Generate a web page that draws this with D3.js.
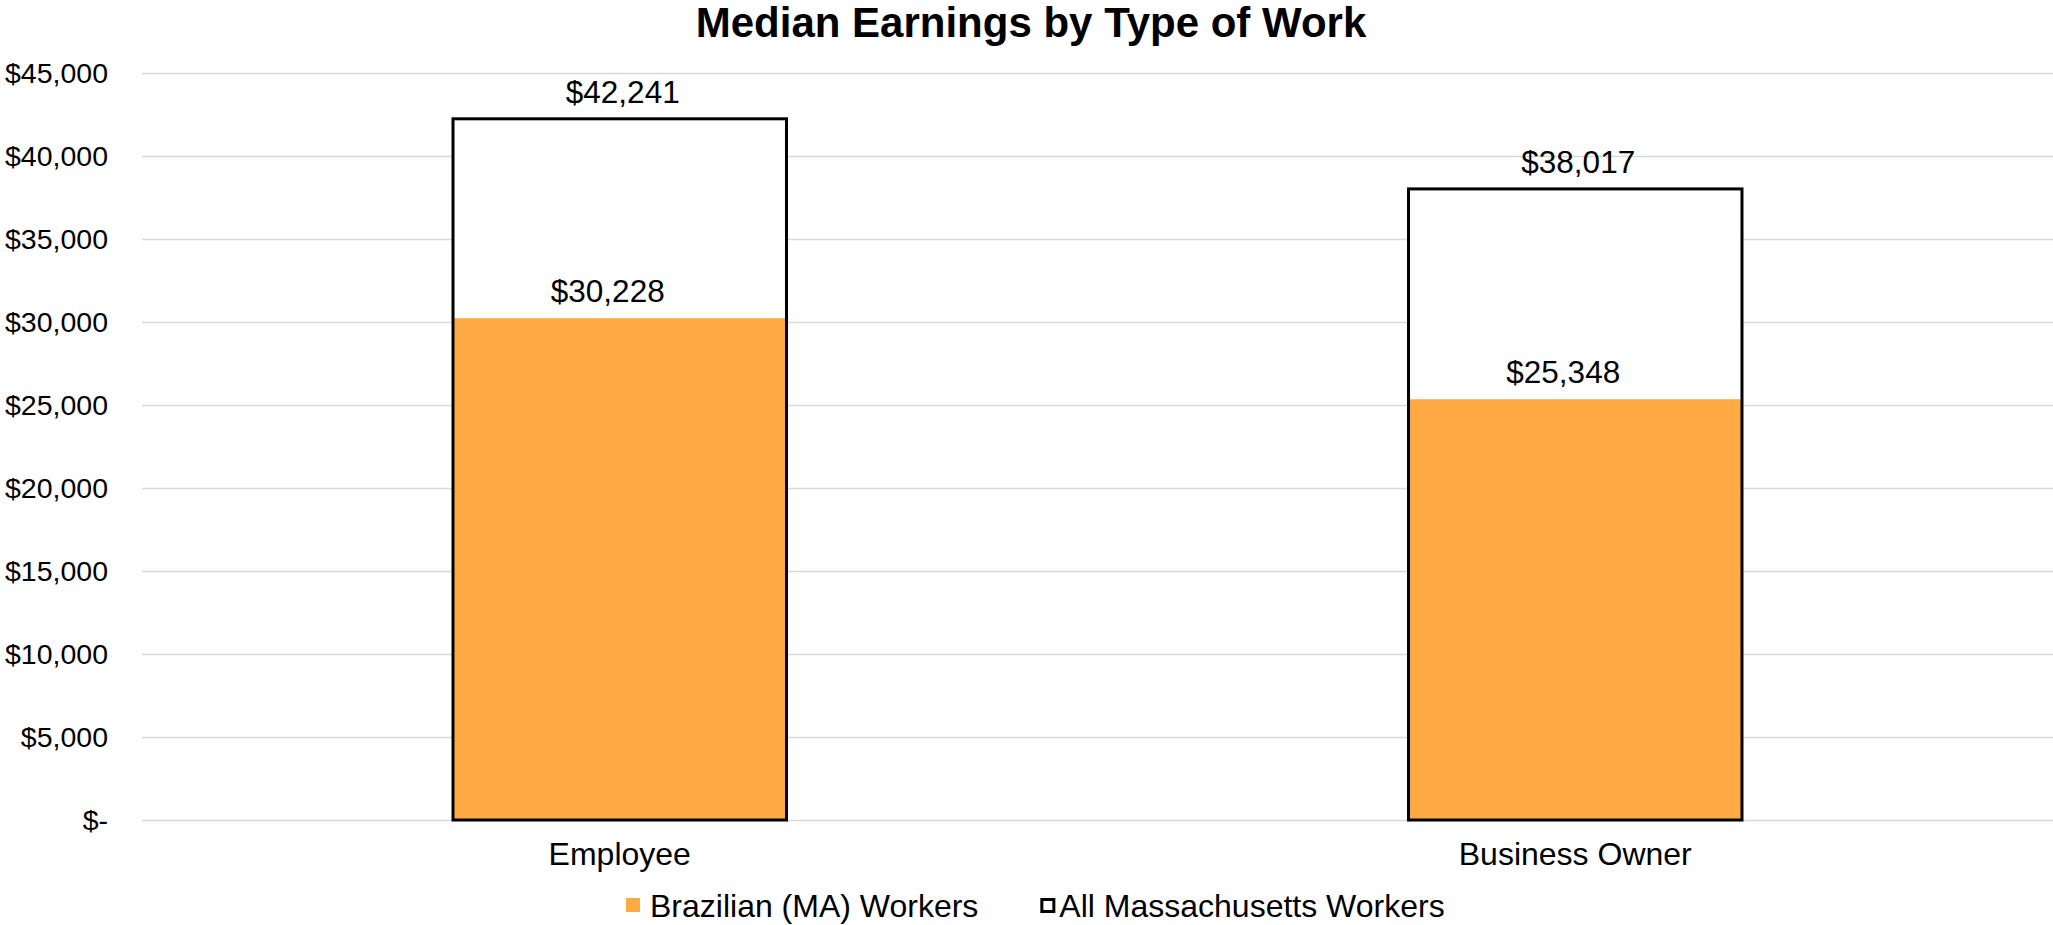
<!DOCTYPE html>
<html>
<head>
<meta charset="utf-8">
<script src="https://cdn.jsdelivr.net/npm/d3@7"></script>
<style>
  body { margin: 0; background: #fff; }
  svg text { font-family: "Liberation Sans", Arial, sans-serif; fill: #000; }
</style>
</head>
<body>
<div id="canvas"></div>
<script>
// data
var categories = ['Employee', 'Business Owner'];
var brazilian = [30228, 25348];
var allMA = [42241, 38017];
var seriesNames = ['Brazilian (MA) Workers', 'All Massachusetts Workers'];
var yTicks = [0, 5000, 10000, 15000, 20000, 25000, 30000, 35000, 40000, 45000];

var W = 2053, H = 925;
var m = {t:73, r:0, b:105, l:142};

var svg = d3.select('#canvas')
    .append('svg')
    .attr('width', W)
    .attr('height', H);

var orange = '#FFAA45';

//scales
var x = d3.scaleBand()
    .domain(categories)
    .range([m.l, W - m.r])
    .paddingInner(0.651)
    .paddingOuter(0.3255);

var y = d3.scaleLinear()
    .domain([0, 45000])
    .range([H - m.b, m.t]);

var fmt = d3.format('$,');

//title
svg.append('text')
    .attr('x', 1031)
    .attr('y', 37)
    .attr('text-anchor', 'middle')
    .style('font-size', '42px')
    .style('font-weight', 'bold')
    .text('Median Earnings by Type of Work');

//y axis with gridlines
var axisY = d3.axisLeft(y)
    .tickValues(yTicks)
    .tickSize(-(W - m.r - m.l))
    .tickPadding(34)
    .tickFormat(function(d){ return d === 0 ? '$-' : fmt(d); });

var gY = svg.append('g')
    .attr('transform', 'translate(' + m.l + ',0)')
    .call(axisY);
gY.select('.domain').remove();
gY.selectAll('.tick line').attr('stroke', '#D9D9D9').attr('stroke-width', 1.5);
gY.selectAll('.tick text')
    .style('font-size', '28.5px')
    .style('font-family', '"Liberation Sans", Arial, sans-serif')
    .attr('fill', '#000')
    .attr('dy', '0.35em');

//x axis (labels only)
var axisX = d3.axisBottom(x).tickSize(0).tickPadding(22);
var gX = svg.append('g')
    .attr('transform', 'translate(0,' + (H - m.b) + ')')
    .call(axisX);
gX.select('.domain').remove();
gX.selectAll('.tick text')
    .style('font-size', '32px')
    .style('font-family', '"Liberation Sans", Arial, sans-serif')
    .attr('fill', '#000');

//bars: All MA behind, Brazilian on top, outline over both
svg.selectAll('.ma')
    .data(allMA)
    .enter().append('rect')
    .attr('class', 'ma')
    .attr('x', function(d, i){ return x(categories[i]); })
    .attr('y', function(d){ return y(d); })
    .attr('width', x.bandwidth())
    .attr('height', function(d){ return y(0) - y(d); })
    .attr('fill', '#fff');

svg.selectAll('.br')
    .data(brazilian)
    .enter().append('rect')
    .attr('class', 'br')
    .attr('x', function(d, i){ return x(categories[i]); })
    .attr('y', function(d){ return y(d); })
    .attr('width', x.bandwidth())
    .attr('height', function(d){ return y(0) - y(d); })
    .attr('fill', orange);

svg.selectAll('.outline')
    .data(allMA)
    .enter().append('rect')
    .attr('class', 'outline')
    .attr('x', function(d, i){ return x(categories[i]); })
    .attr('y', function(d){ return y(d); })
    .attr('width', x.bandwidth())
    .attr('height', function(d){ return y(0) - y(d); })
    .attr('fill', 'none')
    .attr('stroke', '#000')
    .attr('stroke-width', 3);

//value labels
svg.selectAll('.lab-ma')
    .data(allMA)
    .enter().append('text')
    .attr('x', function(d, i){ return x(categories[i]) + x.bandwidth()/2 + 3; })
    .attr('y', function(d){ return y(d) - 16; })
    .attr('text-anchor', 'middle')
    .style('font-size', '31.5px')
    .text(function(d){ return fmt(d); });

svg.selectAll('.lab-br')
    .data(brazilian)
    .enter().append('text')
    .attr('x', function(d, i){ return x(categories[i]) + x.bandwidth()/2 - 12; })
    .attr('y', function(d){ return y(d) - 16; })
    .attr('text-anchor', 'middle')
    .style('font-size', '31.5px')
    .text(function(d){ return fmt(d); });

//legend
var legend = svg.append('g').attr('transform', 'translate(626,' + 898 + ')');
var lx = 0;
seriesNames.forEach(function(name, i){
    var g = legend.append('g').attr('transform', 'translate(' + lx + ',0)');
    if (i === 0) {
        g.append('rect').attr('width', 14).attr('height', 14).attr('fill', orange);
    } else {
        g.append('rect').attr('x', 1.5).attr('y', 1.5).attr('width', 12).attr('height', 12)
            .attr('fill', '#fff').attr('stroke', '#000').attr('stroke-width', 3);
    }
    var t = g.append('text')
        .attr('x', i === 0 ? 24 : 19)
        .attr('y', 19)
        .style('font-size', '32px')
        .text(name);
    lx += 24 + t.node().getComputedTextLength() + 62;
});
</script>
</body>
</html>
